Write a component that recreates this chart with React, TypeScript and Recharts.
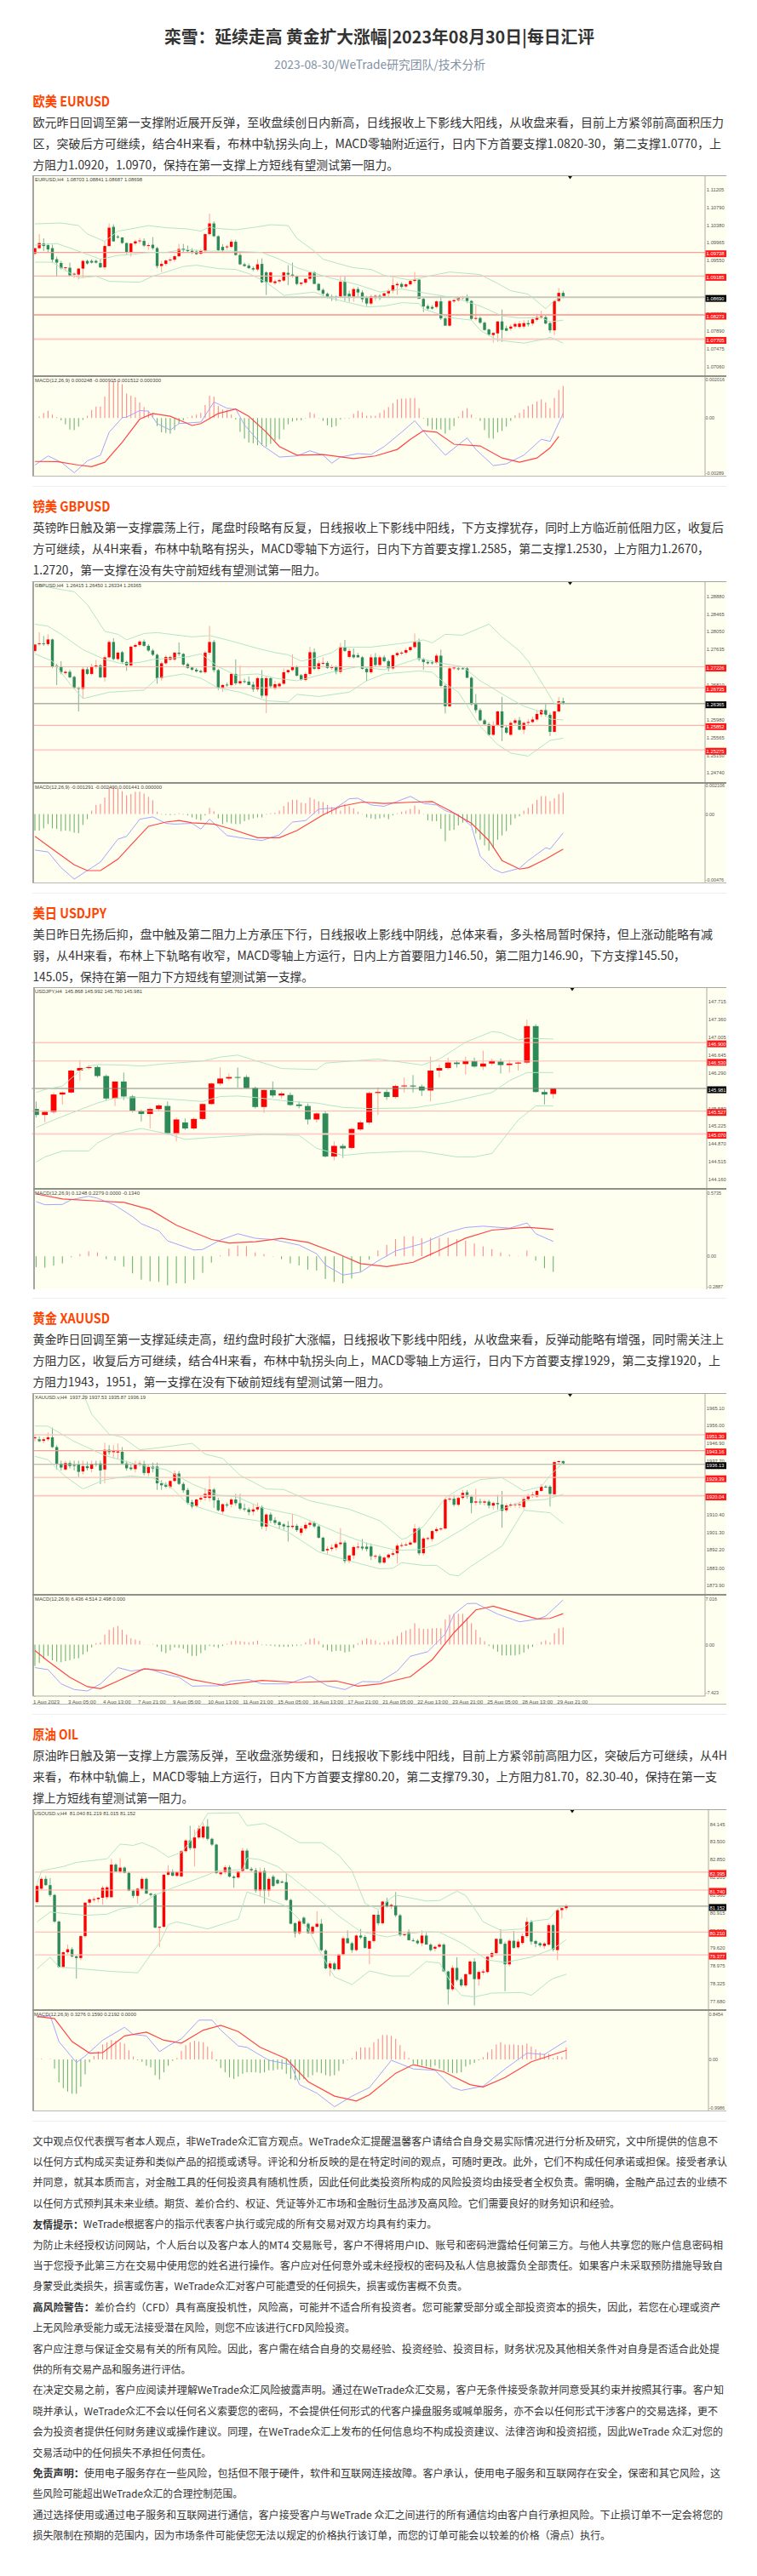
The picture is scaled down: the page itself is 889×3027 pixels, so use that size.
import React from "react";
import { ComposedChart, Bar, Line, XAxis, YAxis, ReferenceLine } from "recharts";

// ---------- EURUSD (prices in 1/10000) : open, high, low, close ----------
const eurCandles = [[10971,10984,10967,10984],[10984,11017,10981,10996],[10995,11007,10977,10989],[10991,10995,10974,10981],[10984,10992,10950,10957],[10958,10964,10917,10950],[10949,10954,10934,10937],[10937,10940,10930,10939],[10938,10950,10919,10920],[10922,10927,10914,10924],[10922,10937,10910,10936],[10936,10957,10914,10954],[10954,10957,10945,10948],[10954,10958,10948,10950],[10954,10957,10948,10950],[10949,10958,10937,10939],[10939,11000,10934,10989],[10989,11042,10987,11032],[11034,11040,10999,11000],[11011,11015,11006,11010],[11009,11010,10994,10996],[10996,10997,10970,10974],[10974,10997,10964,10995],[10995,11004,10990,11000],[11000,11008,10995,11002],[11001,11007,10987,10990],[10990,10996,10980,10991],[10992,11010,10980,10984],[10984,10987,10937,10942],[10942,10954,10928,10947],[10947,10958,10942,10955],[10955,10962,10950,10957],[10957,10968,10952,10965],[10965,10994,10963,10982],[10983,10994,10975,10979],[10981,10990,10975,10977],[10978,10984,10970,10974],[10976,10980,10968,10970],[10971,10982,10968,10978],[10977,11018,10974,11017],[11017,11065,11014,11042],[11042,11047,11010,11012],[11012,11014,10977,10979],[10987,10993,10975,10979],[10986,10992,10980,10988],[10987,11004,10984,10999],[10999,11004,10966,10968],[10968,10974,10944,10946],[10946,10950,10940,10942],[10943,10948,10935,10937],[10937,10941,10930,10934],[10934,10958,10930,10946],[10947,10960,10902,10904],[10927,10930,10874,10904],[10904,10930,10902,10927],[10902,10910,10898,10906],[10906,10912,10902,10909],[10908,10930,10905,10927],[10926,10944,10897,10922],[10922,10950,10915,10918],[10918,10920,10897,10900],[10900,10904,10895,10903],[10903,10912,10899,10912],[10912,10930,10908,10927],[10927,10930,10900,10900],[10900,10902,10883,10885],[10886,10890,10873,10877],[10877,10880,10866,10868],[10870,10875,10860,10867],[10870,10873,10860,10868],[10870,10917,10867,10905],[10905,10917,10860,10872],[10877,10884,10858,10870],[10870,10892,10858,10888],[10888,10893,10870,10880],[10880,10885,10857,10864],[10867,10872,10848,10854],[10854,10875,10850,10871],[10867,10875,10860,10872],[10872,10876,10862,10867],[10872,10880,10868,10878],[10878,10888,10870,10884],[10884,10914,10878,10897],[10897,10905,10874,10900],[10900,10904,10890,10893],[10894,10902,10890,10899],[10899,10910,10896,10907],[10907,10928,10902,10910],[10910,10911,10865,10865],[10865,10868,10834,10847],[10848,10852,10838,10842],[10846,10850,10840,10842],[10846,10862,10842,10859],[10859,10870,10815,10819],[10819,10822,10802,10802],[10802,10862,10800,10860],[10859,10865,10855,10862],[10862,10870,10858,10868],[10867,10872,10862,10869],[10869,10875,10855,10860],[10860,10862,10815,10818],[10818,10850,10814,10820],[10820,10824,10806,10809],[10809,10812,10790,10792],[10793,10795,10778,10781],[10780,10786,10762,10785],[10784,10812,10764,10812],[10812,10840,10764,10792],[10796,10802,10790,10790],[10795,10805,10790,10800],[10800,10810,10795,10806],[10799,10813,10795,10807],[10800,10815,10795,10808],[10808,10815,10800,10805],[10807,10822,10802,10817],[10816,10830,10812,10822],[10822,10837,10818,10824],[10822,10826,10805,10807],[10808,10812,10785,10791],[10791,10862,10780,10860],[10860,10890,10857,10879],[10879,10884,10866,10869]];
const eurUpper = [[0,11041],[3,11042],[6,11043],[10,11037],[12,11017],[16,11000],[19,11024],[23,11031],[26,11037],[30,11032],[35,11029],[38,11024],[40,11034],[41,11031],[46,11027],[51,11034],[54,11039],[58,11037],[60,11007],[64,10977],[66,10958],[69,10949],[73,10938],[77,10934],[80,10920],[86,10909],[91,10920],[95,10928],[102,10922],[106,10901],[109,10884],[113,10876],[117,10842],[119,10861],[121,10871]];
const eurMid = [[0,10991],[5,10995],[10,10977],[15,10958],[19,10967],[22,10969],[26,10974],[30,10974],[34,10981],[40,10977],[45,10977],[52,10974],[56,10958],[60,10938],[67,10916],[74,10898],[79,10881],[84,10888],[88,10881],[92,10874],[96,10868],[102,10848],[107,10825],[111,10820],[116,10821],[118,10811],[121,10815]];
const eurLower = [[0,10951],[4,10951],[6,10938],[10,10914],[14,10918],[17,10906],[24,10904],[27,10918],[34,10941],[37,10944],[42,10936],[46,10934],[49,10924],[53,10904],[57,10873],[64,10881],[67,10868],[76,10846],[80,10848],[84,10856],[88,10854],[89,10841],[95,10821],[100,10815],[102,10791],[106,10768],[112,10761],[117,10771],[118,10775],[121,10761]];
const eurHist = [0,8,26,38,18,5,-12,-33,-60,-63,-45,-10,12,42,60,60,112,188,195,195,177,128,117,108,82,57,38,27,-42,-75,-78,-82,-63,-30,-12,3,12,18,27,68,117,112,63,45,42,18,-8,-72,-108,-128,-132,-142,-142,-150,-135,-117,-112,-60,-33,-18,-12,-12,-2,30,22,-2,-15,-38,-48,-42,-8,-2,-3,22,38,30,12,12,12,27,42,57,78,98,102,102,105,105,52,-3,-42,-60,-60,-60,-82,-63,-42,8,38,52,18,-2,-15,-63,-105,-108,-75,-68,-45,-15,15,27,45,63,72,87,98,82,52,105,147,168];
const eurMacd = [[0,-246],[3,-198],[6,-231],[9,-286],[12,-224],[15,-194],[17,-74],[20,2],[21,5],[24,39],[26,36],[28,-29],[31,-63],[33,-29],[38,-21],[41,84],[44,51],[46,47],[48,-36],[52,-141],[56,-204],[60,-198],[63,-171],[66,-194],[68,-236],[70,-204],[74,-186],[77,-191],[80,-149],[84,-74],[87,-14],[90,-96],[94,-194],[99,-104],[101,-164],[105,-249],[108,-239],[112,-194],[116,-111],[118,-122],[121,24]];
const eurSignal = [[0,-227],[5,-228],[10,-246],[13,-254],[16,-231],[20,-126],[24,-6],[27,24],[31,9],[36,-39],[38,-29],[42,24],[46,47],[49,9],[53,-74],[56,-149],[60,-194],[66,-191],[73,-212],[78,-198],[83,-164],[86,-111],[89,-66],[92,-74],[96,-137],[102,-146],[107,-209],[111,-231],[115,-209],[118,-156],[120,-96]];
const eurTicks: [number,string][] = [[11120.5,"1.11205"],[11079,"1.10790"],[11038,"1.10380"],[10996.5,"1.09965"],[10955,"1.09550"],[10830.5,"1.08305"],[10789,"1.07890"],[10747.5,"1.07475"],[10706,"1.07060"]];
const eurLevels: [number,string][] = [[10973.8,"1.09738"],[10918.5,"1.09185"],[10869,"1.08690"],[10827.3,"1.08273"],[10770.5,"1.07705"]];

// ---------- GBPUSD (prices in 1/10000) ----------
const gbpCandles = [[12760,12775,12756,12775],[12776,12804,12772,12778],[12778,12795,12772,12776],[12776,12799,12772,12787],[12787,12789,12720,12723],[12725,12730,12680,12723],[12724,12736,12705,12710],[12708,12715,12704,12711],[12711,12716,12696,12698],[12699,12702,12670,12673],[12673,12676,12618,12671],[12671,12722,12649,12717],[12717,12722,12704,12706],[12706,12730,12703,12724],[12724,12739,12718,12726],[12726,12730,12696,12698],[12698,12749,12688,12745],[12745,12785,12743,12781],[12781,12790,12738,12741],[12741,12758,12737,12756],[12757,12760,12730,12734],[12734,12737,12713,12726],[12726,12772,12722,12770],[12770,12778,12766,12774],[12774,12786,12770,12782],[12782,12787,12770,12772],[12772,12776,12758,12761],[12761,12765,12748,12751],[12751,12754,12683,12696],[12696,12735,12690,12731],[12731,12750,12728,12746],[12740,12749,12736,12746],[12740,12758,12736,12756],[12756,12780,12748,12753],[12753,12755,12725,12728],[12729,12732,12718,12720],[12721,12723,12713,12716],[12716,12720,12709,12712],[12713,12716,12708,12710],[12710,12760,12706,12756],[12756,12819,12750,12781],[12781,12786,12710,12715],[12715,12718,12668,12673],[12673,12682,12664,12680],[12681,12686,12676,12679],[12680,12708,12677,12706],[12706,12740,12680,12684],[12684,12726,12680,12689],[12689,12695,12684,12688],[12688,12700,12680,12680],[12681,12688,12664,12670],[12670,12700,12665,12696],[12696,12715,12650,12655],[12655,12700,12614,12696],[12696,12700,12672,12677],[12672,12690,12668,12682],[12677,12686,12672,12683],[12683,12719,12680,12710],[12710,12716,12706,12715],[12715,12752,12712,12723],[12723,12726,12700,12702],[12703,12706,12690,12692],[12692,12710,12688,12706],[12706,12770,12702,12757],[12757,12766,12715,12718],[12718,12738,12714,12731],[12730,12745,12726,12732],[12732,12736,12718,12720],[12720,12728,12716,12722],[12722,12726,12705,12711],[12711,12779,12706,12769],[12769,12786,12758,12760],[12746,12766,12742,12760],[12751,12766,12742,12745],[12750,12755,12744,12745],[12745,12748,12716,12718],[12718,12722,12689,12710],[12710,12752,12706,12745],[12745,12755,12722,12727],[12727,12750,12724,12745],[12745,12750,12733,12736],[12736,12740,12712,12719],[12719,12752,12715,12750],[12750,12758,12746,12755],[12755,12760,12750,12756],[12756,12767,12752,12762],[12762,12770,12758,12769],[12769,12801,12765,12781],[12781,12789,12736,12741],[12741,12744,12716,12734],[12734,12738,12728,12731],[12733,12738,12728,12731],[12732,12754,12729,12749],[12749,12763,12675,12678],[12678,12682,12613,12630],[12630,12725,12628,12719],[12719,12725,12715,12721],[12719,12724,12714,12717],[12719,12723,12716,12717],[12719,12723,12696,12697],[12697,12700,12632,12635],[12635,12659,12615,12621],[12621,12625,12595,12597],[12597,12600,12585,12588],[12588,12592,12560,12563],[12563,12595,12560,12586],[12586,12620,12583,12618],[12618,12652,12548,12580],[12580,12584,12565,12568],[12563,12596,12560,12591],[12591,12602,12587,12597],[12597,12605,12574,12575],[12575,12595,12565,12591],[12591,12600,12586,12593],[12593,12606,12590,12599],[12599,12620,12595,12612],[12611,12622,12605,12621],[12621,12635,12606,12610],[12610,12615,12560,12570],[12570,12620,12568,12618],[12618,12652,12615,12642],[12642,12650,12634,12638]];
const gbpUpper = [[0,12916],[5,12906],[9,12899],[12,12869],[16,12806],[19,12799],[21,12786],[25,12801],[28,12803],[36,12793],[40,12796],[44,12786],[51,12766],[55,12756],[58,12751],[61,12736],[64,12743],[68,12756],[70,12769],[77,12769],[85,12779],[89,12786],[91,12779],[94,12799],[98,12797],[104,12823],[107,12793],[111,12760],[113,12736],[117,12670],[119,12636],[121,12640]];
const gbpMid = [[0,12823],[3,12818],[6,12799],[11,12763],[16,12740],[20,12730],[24,12733],[27,12740],[35,12746],[38,12753],[42,12723],[46,12703],[51,12706],[55,12696],[60,12690],[69,12713],[74,12723],[80,12716],[88,12743],[92,12733],[98,12723],[102,12690],[108,12653],[112,12630],[116,12617],[118,12600],[121,12598]];
const gbpLower = [[0,12753],[4,12736],[8,12683],[11,12648],[17,12663],[25,12668],[28,12696],[34,12706],[38,12696],[42,12673],[47,12663],[53,12643],[58,12640],[60,12658],[65,12653],[72,12663],[76,12690],[80,12706],[88,12713],[91,12710],[94,12683],[97,12663],[102,12583],[106,12540],[109,12520],[113,12513],[118,12550],[121,12555]];
const gbpHist = [-122,-122,-105,-74,-105,-109,-126,-122,-126,-137,-141,-80,-38,25,67,74,122,193,200,193,168,137,147,164,164,151,126,101,17,-4,-6,-8,-6,6,-4,-10,-25,-38,-46,-10,46,21,-32,-74,-59,-69,-74,-74,-52,-42,-32,-25,-25,-4,6,10,25,59,88,105,105,84,80,122,109,95,88,67,52,46,25,74,59,42,17,-2,-25,-32,-38,-32,-25,-38,-10,6,17,25,38,63,32,-2,-46,-52,-52,-109,-200,-122,-116,-84,-63,-59,-84,-143,-189,-231,-269,-252,-189,-158,-126,-80,-32,-17,25,46,74,105,132,132,95,116,147,158];
const gbpMacd = [[0,-265],[3,-279],[6,-395],[9,-479],[13,-395],[15,-353],[19,-185],[21,-164],[24,-38],[27,-21],[30,-69],[32,-74],[36,-69],[38,-111],[40,-38],[44,-158],[48,-179],[52,-195],[56,-153],[59,-59],[62,-48],[65,36],[69,46],[72,113],[74,116],[77,67],[80,57],[86,130],[89,78],[92,67],[94,25],[97,-6],[100,-90],[102,-311],[105,-405],[107,-433],[111,-399],[113,-342],[117,-248],[118,-258],[121,-139]];
const gbpSignal = [[0,-164],[4,-258],[9,-374],[12,-416],[15,-416],[19,-332],[22,-227],[26,-90],[30,-59],[33,-48],[36,-65],[41,-74],[45,-111],[51,-174],[56,-174],[60,-122],[66,-6],[70,57],[75,88],[80,78],[87,88],[91,92],[95,25],[100,-69],[104,-195],[107,-342],[111,-405],[113,-395],[117,-332],[121,-258]];
const gbpTicks: [number,string][] = [[12888,"1.28880"],[12846.5,"1.28465"],[12805,"1.28050"],[12763.5,"1.27635"],[12681,"1.26810"],[12598,"1.25980"],[12556.5,"1.25565"],[12515,"1.25150"],[12474,"1.24740"]];
const gbpLevels: [number,string][] = [[12722.6,"1.27226"],[12673.5,"1.26735"],[12636.5,"1.26365"],[12585.2,"1.25852"],[12527.5,"1.25275"]];

// ---------- USDJPY (prices in 1/100) ----------
const jpyCandles = [[14557,14572,14540,14545],[14545,14552,14530,14551],[14551,14590,14548,14586],[14586,14592,14566,14590],[14590,14636,14588,14634],[14634,14655,14614,14639],[14639,14645,14636,14641],[14641,14644,14620,14623],[14623,14626,14574,14578],[14578,14612,14563,14612],[14612,14630,14575,14582],[14582,14585,14550,14553],[14553,14556,14532,14547],[14547,14560,14518,14557],[14557,14567,14554,14564],[14563,14572,14505,14506],[14506,14540,14492,14536],[14530,14538,14515,14518],[14518,14540,14515,14537],[14537,14568,14534,14567],[14567,14610,14565,14608],[14608,14640,14604,14618],[14618,14628,14614,14621],[14621,14640,14600,14620],[14621,14625,14598,14599],[14599,14602,14558,14561],[14561,14596,14549,14595],[14595,14612,14580,14584],[14584,14592,14578,14588],[14585,14590,14563,14565],[14566,14572,14558,14563],[14563,14568,14526,14536],[14536,14550,14530,14548],[14548,14552,14460,14462],[14462,14492,14454,14483],[14483,14487,14459,14478],[14479,14520,14476,14517],[14516,14534,14513,14530],[14530,14592,14526,14589],[14589,14600,14545,14591],[14591,14596,14575,14581],[14581,14606,14578,14603],[14603,14620,14590,14604],[14604,14625,14590,14602],[14602,14606,14583,14594],[14594,14662,14572,14634],[14634,14646,14620,14639],[14639,14660,14636,14650],[14650,14654,14640,14647],[14647,14662,14626,14653],[14653,14660,14640,14642],[14642,14674,14635,14648],[14648,14658,14644,14653],[14652,14658,14628,14645],[14645,14655,14630,14648],[14648,14652,14634,14650],[14650,14736,14647,14723],[14723,14727,14590,14591],[14591,14596,14566,14586],[14587,14599,14578,14598]];
const jpyUpper = [[0,14590],[1,14596],[3,14603],[5,14634],[6,14643],[7,14646],[10,14645],[12,14643],[15,14648],[19,14653],[21,14661],[23,14665],[25,14654],[28,14638],[32,14636],[33,14649],[36,14653],[39,14657],[42,14650],[44,14645],[46,14657],[49,14691],[52,14712],[53,14710],[55,14695],[56,14699],[59,14697]];
const jpyMid = [[0,14520],[2,14535],[4,14549],[7,14569],[9,14579],[12,14580],[15,14577],[19,14572],[21,14582],[23,14583],[25,14580],[29,14572],[32,14569],[35,14560],[38,14558],[43,14559],[47,14570],[52,14590],[54,14614],[56,14630],[59,14630]];
const jpyLower = [[0,14451],[1,14461],[3,14473],[6,14473],[7,14489],[9,14507],[12,14518],[15,14507],[17,14496],[20,14500],[26,14506],[30,14504],[32,14478],[35,14464],[38,14469],[42,14472],[44,14472],[48,14461],[50,14461],[52,14468],[55,14535],[57,14563],[59,14563]];
const jpyHist = [-98,-103,-85,-65,-8,21,46,36,-26,-39,-95,-155,-212,-227,-232,-263,-245,-245,-212,-150,-57,8,70,98,90,36,21,-3,-26,-65,-83,-121,-129,-206,-232,-245,-201,-142,-31,52,103,155,181,181,163,168,168,168,155,142,116,90,65,36,15,3,52,-39,-108,-142];
const jpyMacd = [[0,495],[1,467],[3,470],[4,513],[6,544],[7,526],[9,462],[11,359],[12,294],[14,230],[15,139],[18,57],[19,62],[21,147],[23,204],[25,163],[27,152],[30,101],[32,23],[33,-80],[35,-170],[37,-144],[39,-41],[41,49],[44,114],[47,217],[49,261],[51,273],[54,255],[56,302],[57,204],[59,134]];
const jpySignal = [[0,565],[3,519],[7,501],[10,488],[13,423],[16,281],[20,152],[22,121],[25,132],[28,163],[31,126],[34,36],[37,-67],[40,-93],[43,-54],[46,54],[49,165],[52,237],[56,263],[59,243]];
const jpyTicks: [number,string][] = [[14771.5,"147.715"],[14736,"147.360"],[14700.5,"147.005"],[14664.5,"146.645"],[14629,"146.290"],[14593.5,"145.935"],[14558,"145.580"],[14522.5,"145.225"],[14487,"144.870"],[14451.5,"144.515"],[14416,"144.160"]];
const jpyLevels: [number,string][] = [[14690,"146.900"],[14653,"146.530"],[14598.1,"145.981"],[14552.7,"145.527"],[14507,"145.070"]];

// ---------- XAUUSD ----------
const xauCandles = [[1949.5,1951,1948,1950],[1949,1950.5,1947.5,1948],[1948.2,1950,1947,1949],[1949,1952.5,1948,1950],[1950,1955,1944.5,1945],[1945,1946,1933.5,1936.5],[1936.5,1938,1933,1934.5],[1933.5,1938,1933,1936.8],[1936.8,1938,1934,1935.3],[1935.8,1938,1933,1935.3],[1936,1938,1929.7,1932.3],[1932.5,1938,1931,1935.2],[1935.2,1937.5,1933,1934.2],[1933.8,1938,1932,1936.3],[1936.5,1938,1935,1936.2],[1936.6,1938,1926,1933],[1933.5,1947.2,1926.5,1943.6],[1943.6,1946,1941,1942.4],[1942.4,1946,1939,1943.2],[1942.2,1946.8,1939,1942.8],[1942.6,1945,1936,1936.6],[1936.6,1938,1933,1934.1],[1934.5,1936,1933,1933.7],[1933.7,1938,1932,1936.3],[1936.3,1938,1935,1936.6],[1936.3,1938,1930.5,1931.7],[1931.7,1936,1930,1934.9],[1935,1937,1932,1934],[1935,1937,1923,1926.4],[1926.4,1928,1923,1925.4],[1925.8,1927,1924,1924.7],[1924.5,1928,1923.5,1927.6],[1927.6,1933,1927,1931.4],[1931.4,1932.7,1925.5,1926.1],[1926.1,1927,1921.6,1922.8],[1923,1924,1915.5,1916.3],[1916.7,1918,1913.5,1914.5],[1914.8,1918.5,1914,1918.1],[1918.1,1920,1917,1918.9],[1919,1924,1917.5,1921],[1918.9,1930.2,1917,1923.2],[1923.2,1924,1913.8,1917.7],[1917.7,1919,1912,1912.6],[1911.9,1916,1910.5,1915.7],[1915.5,1916.5,1914,1915.2],[1915.6,1919,1914,1918.1],[1918.1,1921,1915,1916.2],[1916.2,1921,1912.5,1913.4],[1913.5,1916,1912,1913],[1913,1914,1910,1911.6],[1911.9,1916,1910,1913],[1913,1916.5,1912,1914.2],[1914.2,1915,1903,1904.3],[1904.2,1911,1902,1910.4],[1910.4,1911.5,1906,1907.3],[1907.5,1909,1905,1906.1],[1906.5,1907,1903,1905],[1905.3,1906,1902.5,1904.3],[1904.6,1907,1896.5,1904],[1904,1910.8,1903,1904.6],[1904.6,1905.5,1901.5,1902.4],[1901,1904.5,1899.5,1903.2],[1903.2,1906.5,1902,1905.1],[1905.1,1907.5,1904,1906.1],[1906.1,1907,1903.5,1904.3],[1904.3,1905,1898,1898.5],[1898.5,1899,1891.5,1891.5],[1892,1894,1889.8,1892.7],[1892.7,1895,1891.5,1893.4],[1893.4,1896.5,1892,1895.2],[1895.2,1903.5,1894,1896],[1896,1897,1885.4,1886.5],[1886.5,1889.5,1885.4,1889.4],[1889.4,1894.5,1887.5,1893.7],[1893.7,1896,1892.5,1893.9],[1893.9,1897.8,1892,1893],[1893.9,1896,1891.5,1892.7],[1894,1895.5,1887,1889],[1889,1890,1887.5,1889.2],[1889,1890,1885,1885.7],[1885.7,1889,1885,1888.3],[1888.3,1890.5,1887.5,1889.8],[1889.8,1892,1889,1890.5],[1890.5,1895.5,1885.4,1894.4],[1894.4,1896,1893.5,1894.7],[1894.7,1896,1894,1895],[1895,1897,1894.5,1896],[1896,1905.5,1895.5,1903.2],[1903.2,1904,1889.5,1890.5],[1890.5,1899,1889.5,1898.1],[1898.1,1899,1897,1898.3],[1897.8,1902.5,1896.5,1901.9],[1901.9,1904,1901,1902.9],[1902.9,1904,1902,1903.2],[1903.2,1919,1902.5,1918.2],[1918.2,1920,1917,1918.5],[1918.5,1920.5,1914.5,1915.4],[1915.4,1919.5,1914.5,1918.9],[1918.9,1923,1918,1921.5],[1921.8,1923,1918.5,1919.6],[1919.6,1920.5,1911,1916.3],[1916.5,1923.5,1915,1917.1],[1917,1918.5,1915.5,1916.9],[1916.5,1918,1915,1917.1],[1917,1918,1913.5,1915],[1915,1917,1913,1916.3],[1916.3,1920.5,1913,1915.7],[1915.5,1922.5,1903.6,1912.3],[1912.6,1916,1911.5,1915],[1915,1916.5,1914,1915.5],[1915.3,1916.5,1914,1915.7],[1915.3,1917,1913.5,1915.7],[1914.2,1919.5,1913,1918.3],[1918.3,1921,1917.5,1920.3],[1920,1922,1919,1920.6],[1919.6,1923,1919,1922.5],[1922.5,1926,1922,1924.7],[1924.7,1925.5,1924,1924.4],[1924.7,1925.5,1914.5,1921],[1920.8,1938,1920,1937.3],[1937.3,1938,1936,1937.8],[1937.8,1938,1936.2,1936.6]];
const xauUpper = [[11,1972.7],[13,1961.8],[17,1951.6],[20,1950.1],[24,1943.6],[27,1944.3],[36,1946.9],[39,1941.4],[43,1939.2],[47,1930.5],[53,1923.5],[57,1923.2],[63,1917.4],[72,1913.1],[79,1907.2],[84,1897.8],[85,1898.2],[89,1904.3],[94,1918.9],[97,1923.2],[102,1928.3],[107,1929.3],[112,1922.5],[116,1924.7],[118,1930.5],[121,1937]];
const xauMid = [[0,1955.8],[3,1955.7],[9,1947.9],[16,1940.7],[23,1936.3],[30,1933.4],[36,1926.1],[42,1920.3],[46,1919.6],[52,1913.8],[60,1910.1],[69,1901.4],[76,1895.6],[83,1892],[88,1892.4],[92,1894.9],[98,1902.9],[102,1908.7],[107,1913.1],[112,1917.4],[117,1918.1],[121,1920.8]];
const xauLower = [[0,1940.2],[3,1938.5],[7,1929.8],[11,1923.5],[16,1928.3],[22,1930.2],[27,1929.1],[31,1924.7],[35,1916],[41,1911.6],[45,1909.1],[51,1907.2],[58,1901.4],[65,1891.2],[72,1886.6],[79,1882.5],[82,1882.8],[84,1885.7],[89,1884.3],[92,1884.3],[95,1879.6],[97,1878.9],[100,1884],[107,1894.2],[112,1912.6],[118,1911.3],[121,1905.8]];
const xauHist = [-327,-283,-218,-174,-240,-262,-270,-253,-240,-218,-209,-153,-109,-44,22,35,153,227,262,283,227,153,96,78,61,4,4,9,-35,-109,-131,-87,-44,-52,-65,-131,-174,-174,-131,-87,-22,-35,-52,-22,13,52,61,52,44,35,44,61,-9,-13,-17,-26,-35,-35,-35,-26,-17,-13,35,87,96,52,-44,-87,-109,-96,-96,-122,-109,-52,22,65,96,78,65,26,35,52,78,131,187,218,240,327,249,240,240,249,253,249,384,458,471,471,471,414,327,227,109,52,-22,-65,-109,-166,-166,-166,-166,-153,-122,-65,-35,4,44,65,35,174,249,262];
const xauMacd = [[0,-353],[3,-384],[6,-602],[9,-689],[12,-711],[15,-602],[19,-353],[22,-405],[26,-371],[30,-458],[33,-501],[36,-637],[39,-632],[42,-632],[45,-558],[49,-536],[52,-602],[58,-602],[63,-484],[67,-632],[71,-689],[75,-567],[79,-571],[83,-405],[86,-179],[90,-109],[94,161],[96,467],[99,628],[101,632],[106,467],[111,349],[115,388],[117,436],[121,685]];
const xauSignal = [[0,-92],[3,-253],[8,-501],[12,-645],[15,-676],[19,-558],[25,-371],[30,-405],[36,-536],[43,-623],[52,-549],[60,-580],[69,-558],[74,-637],[79,-602],[86,-493],[91,-231],[96,183],[101,532],[105,589],[109,510],[115,392],[118,401],[121,475]];
const xauTicks: [number,string][] = [[1965.1,"1965.10"],[1956,"1956.00"],[1946.9,"1946.90"],[1937.7,"1937.70"],[1910.4,"1910.40"],[1901.3,"1901.30"],[1892.2,"1892.20"],[1883,"1883.00"],[1873.9,"1873.90"]];
const xauLevels: [number,string][] = [[1951.3,"1951.30"],[1943.16,"1943.16"],[1936.13,"1936.13"],[1929.39,"1929.39"],[1920.04,"1920.04"]];
const xauDates = ["1 Aug 2023","3 Aug 05:00","4 Aug 13:00","7 Aug 21:00","9 Aug 05:00","10 Aug 13:00","11 Aug 21:00","15 Aug 05:00","16 Aug 13:00","17 Aug 21:00","21 Aug 05:00","22 Aug 13:00","23 Aug 21:00","25 Aug 05:00","28 Aug 13:00","29 Aug 21:00"];

// ---------- USOUSD (prices in 1/100) ----------
const oilCandles = [[8130,8196,8125,8189],[8179,8222,8175,8215],[8215,8225,8190,8192],[8192,8218,8150,8156],[8156,8160,8054,8059],[8059,8063,7890,7893],[7893,7952,7888,7947],[7947,7975,7940,7958],[7958,7965,7928,7932],[7932,7935,7851,7926],[7926,8010,7918,8006],[8006,8130,8000,8128],[8128,8145,8118,8140],[8140,8150,8130,8141],[8141,8148,8130,8146],[8146,8190,8120,8182],[8148,8190,8140,8184],[8148,8288,8145,8267],[8267,8272,8240,8241],[8241,8290,8235,8256],[8256,8260,8235,8237],[8237,8240,8170,8172],[8172,8176,8145,8153],[8153,8182,8125,8179],[8179,8223,8172,8215],[8215,8220,8160,8161],[8161,8165,8150,8156],[8158,8162,8035,8037],[8037,8042,7965,8040],[8040,8232,8036,8230],[8230,8265,8225,8241],[8241,8250,8225,8226],[8226,8240,8222,8240],[8224,8320,8220,8316],[8316,8360,8310,8355],[8355,8409,8320,8327],[8327,8394,8260,8366],[8366,8410,8360,8399],[8366,8420,8360,8406],[8406,8433,8355,8361],[8361,8365,8335,8340],[8340,8343,8232,8236],[8232,8245,8225,8239],[8239,8265,8232,8257],[8257,8265,8220,8223],[8223,8228,8182,8218],[8220,8243,8215,8242],[8244,8328,8240,8318],[8318,8325,8250,8251],[8251,8258,8240,8246],[8246,8255,8165,8172],[8172,8256,8150,8241],[8244,8255,8125,8172],[8172,8222,8150,8215],[8223,8230,8185,8189],[8211,8215,8195,8198],[8205,8210,8200,8201],[8203,8234,8135,8138],[8138,8142,8050,8051],[8053,8056,8001,8017],[8017,8065,8010,8060],[8073,8078,8050,8051],[8051,8056,8015,8017],[8017,8045,8012,8040],[8040,8097,8035,8051],[8051,8068,7950,7955],[7953,7958,7885,7888],[7888,7915,7860,7906],[7906,7912,7880,7885],[7885,7940,7880,7939],[7939,8005,7935,7998],[7998,8027,7980,7980],[7980,7985,7945,7955],[7955,8012,7950,8008],[8008,8032,7995,8001],[8003,8010,7960,7963],[7960,7990,7903,7988],[7988,8085,7982,8084],[8084,8100,8045,8053],[8053,8135,8048,8132],[8132,8146,8110,8115],[8115,8125,8105,8120],[8117,8167,8075,8082],[8082,8087,8005,8009],[8009,8020,8005,8013],[8022,8030,7990,7991],[7991,7998,7985,7989],[7989,7995,7975,7980],[7980,8027,7970,8008],[8008,8018,7975,7975],[7975,7980,7950,7955],[7960,7972,7950,7967],[7967,7982,7962,7975],[7975,7980,7875,7877],[7877,7880,7756,7812],[7812,7900,7805,7890],[7890,7929,7840,7846],[7848,7855,7820,7826],[7826,7870,7820,7867],[7867,7918,7862,7913],[7913,7925,7753,7849],[7849,7880,7825,7875],[7873,7885,7865,7877],[7875,7932,7870,7931],[7931,7950,7925,7944],[7944,7998,7940,7996],[7996,8032,7975,7978],[7978,7985,7805,7903],[7903,7995,7895,7989],[7989,8025,7960,7963],[7965,7995,7960,7986],[7981,8015,7975,8006],[8006,8074,8000,8058],[8058,8065,7975,7986],[7988,7992,7965,7978],[7980,7984,7965,7972],[7970,7985,7960,7979],[7975,8052,7970,8046],[8046,8050,7950,7957],[7955,8105,7918,8101],[8101,8112,8070,8108],[8108,8123,8100,8115]];
const oilUpper = [[0,8198],[1,8244],[6,8260],[9,8275],[16,8288],[19,8342],[22,8337],[24,8347],[27,8327],[30,8294],[33,8311],[36,8373],[39,8454],[46,8456],[48,8409],[52,8417],[55,8394],[60,8347],[65,8347],[69,8301],[72,8244],[75,8125],[78,8103],[81,8146],[82,8156],[89,8134],[92,8136],[96,8170],[98,8154],[102,8058],[106,8027],[111,8032],[113,8060],[117,8068],[119,8105],[120,8115]];
const oilMid = [[0,8058],[3,8094],[6,8089],[11,8082],[16,8086],[19,8105],[23,8115],[27,8156],[31,8182],[39,8229],[41,8244],[47,8249],[48,8291],[51,8285],[55,8260],[60,8198],[64,8146],[69,8079],[74,8022],[80,8003],[83,8012],[89,8022],[92,8020],[97,7981],[103,7919],[107,7910],[113,7929],[118,7960],[121,7993]];
const oilLower = [[0,7886],[3,7929],[5,7893],[9,7888],[17,7877],[23,7872],[26,7939],[28,7981],[30,8048],[32,8058],[39,8032],[43,8053],[46,8068],[48,8167],[52,8146],[57,8115],[62,8032],[65,7939],[68,7857],[72,7829],[76,7879],[81,7860],[85,7860],[89,7913],[92,7908],[95,7826],[97,7790],[100,7784],[104,7798],[111,7800],[113,7790],[117,7841],[118,7851],[121,7867]];
const oilHist = [5,11,0,11,-170,-426,-532,-596,-638,-638,-505,-277,-53,64,149,277,319,362,346,319,293,170,53,-16,-43,-117,-149,-293,-372,-239,-117,-27,27,160,266,319,346,330,319,239,149,-27,-160,-239,-330,-362,-319,-266,-239,-239,-239,-255,-239,-202,-202,-186,-186,-266,-362,-383,-383,-362,-330,-293,-239,-255,-293,-309,-293,-213,-80,-11,27,149,223,223,223,319,383,452,452,436,383,266,149,27,-80,-106,-117,-133,-149,-117,-170,-213,-239,-255,-255,-239,-133,-96,-64,-16,43,133,186,277,319,277,277,277,266,266,293,239,186,133,106,106,27,64,43,223];
const oilMacd = [[0,782],[3,809],[5,330],[9,-59],[11,64],[15,356],[20,596],[22,463],[25,436],[28,144],[30,250],[33,383],[37,729],[40,729],[42,543],[46,250],[48,223],[53,-16],[58,-96],[60,-468],[64,-628],[68,-878],[72,-681],[76,-521],[81,-16],[86,-176],[91,-202],[95,-521],[97,-575],[102,-495],[107,-176],[112,117],[116,90],[117,144],[121,346]];
const oilSignal = [[0,798],[4,755],[8,330],[12,117],[15,128],[20,436],[25,505],[29,356],[33,303],[38,543],[42,633],[46,516],[51,223],[57,11],[62,-415],[68,-681],[73,-771],[76,-654],[82,-255],[86,-96],[93,-229],[99,-468],[102,-511],[107,-335],[113,-43],[121,170]];
const oilTicks: [number,string][] = [[8414.5,"84.145"],[8350,"83.500"],[8285,"82.850"],[8220.5,"82.205"],[8156,"81.560"],[8091.5,"80.915"],[8026.5,"80.265"],[7962,"79.620"],[7897.5,"78.975"],[7832.5,"78.325"],[7768,"77.680"]];
const oilLevels: [number,string][] = [[8239.5,"82.395"],[8174,"81.740"],[8115.2,"81.152"],[8021,"80.210"],[7937.7,"79.377"]];

// ---------- texts ----------
const titleText = "栾雪：延续走高 黄金扩大涨幅|2023年08月30日|每日汇评";
const subtitleText = "2023-08-30/WeTrade研究团队/技术分析";
const eurHead = "欧美 EURUSD";
const gbpHead = "镑美 GBPUSD";
const jpyHead = "美日 USDJPY";
const xauHead = "黄金 XAUUSD";
const oilHead = "原油 OIL";
const eurText: [string, number][] = [["欧元昨日回调至第一支撑附近展开反弹，至收盘续创日内新高，日线报收上下影线大阳线，从收盘来看，目前上方紧邻前高面积压力",850],["区，突破后方可继续，结合4H来看，布林中轨拐头向上，MACD零轴附近运行，日内下方首要支撑1.0820-30，第二支撑1.0770，上",847],["方阻力1.0920，1.0970，保持在第一支撑上方短线有望测试第一阻力。",468]];
const gbpText: [string, number][] = [["英镑昨日触及第一支撑震荡上行，尾盘时段略有反复，日线报收上下影线中阳线，下方支撑犹存，同时上方临近前低阻力区，收复后",850],["方可继续，从4H来看，布林中轨略有拐头，MACD零轴下方运行，日内下方首要支撑1.2585，第二支撑1.2530，上方阻力1.2670，",833],["1.2720，第一支撑在没有失守前短线有望测试第一阻力。",383]];
const jpyText: [string, number][] = [["美日昨日先扬后抑，盘中触及第二阻力上方承压下行，日线报收上影线中阴线，总体来看，多头格局暂时保持，但上涨动能略有减",837],["弱，从4H来看，布林上下轨略有收窄，MACD零轴上方运行，日内上方首要阻力146.50，第二阻力146.90，下方支撑145.50，",805],["145.05，保持在第一阻力下方短线有望测试第一支撑。",368]];
const xauText: [string, number][] = [["黄金昨日回调至第一支撑延续走高，纽约盘时段扩大涨幅，日线报收下影线中阳线，从收盘来看，反弹动能略有增强，同时需关注上",850],["方阻力区，收复后方可继续，结合4H来看，布林中轨拐头向上，MACD零轴上方运行，日内下方首要支撑1929，第二支撑1920，上",846],["方阻力1943，1951，第一支撑在没有下破前短线有望测试第一阻力。",458]];
const oilText: [string, number][] = [["原油昨日触及第一支撑上方震荡反弹，至收盘涨势缓和，日线报收下影线中阳线，目前上方紧邻前高阻力区，突破后方可继续，从4H",854],["来看，布林中轨偏上，MACD零轴上方运行，日内下方首要支撑80.20，第二支撑79.30，上方阻力81.70，82.30-40，保持在第一支",842],["撑上方短线有望测试第一阻力。",227]];
const disclaimer: [string, string, number][] = [
["","文中观点仅代表撰写者本人观点，非WeTrade众汇官方观点。WeTrade众汇提醒温馨客户请结合自身交易实际情况进行分析及研究，文中所提供的信息不",843],
["","以任何方式构成买卖证券和类似产品的招揽或诱导。评论和分析反映的是在特定时间的观点，可随时更改。此外，它们不构成任何承诺或担保。接受者承认",854],
["","并同意，就其本质而言，对金融工具的任何投资具有随机性质，因此任何此类投资所构成的风险投资均由接受者全权负责。需明确，金融产品过去的业绩不",854],
["","以任何方式预判其未来业绩。期货、差价合约、权证、凭证等外汇市场和金融衍生品涉及高风险。它们需要良好的财务知识和经验。",728],
["友情提示：","WeTrade根据客户的指示代表客户执行或完成的所有交易对双方均具有约束力。",513],
["","为防止未经授权访问网站，个人后台以及客户本人的MT4 交易账号，客户不得将用户ID、账号和密码泄露给任何第三方。与他人共享您的账户信息密码相",849],
["","当于您授予此第三方在交易中使用您的姓名进行操作。客户应对任何意外或未经授权的密码及私人信息披露负全部责任。如果客户未采取预防措施导致自",849],
["","身蒙受此类损失，损害或伤害，WeTrade众汇对客户可能遭受的任何损失，损害或伤害概不负责。",549],
["高风险警告：","差价合约（CFD）具有高度投机性，风险高，可能并不适合所有投资者。您可能蒙受部分或全部投资资本的损失，因此，若您在心理或资产",846],
["","上无风险承受能力或无法接受潜在风险，则您不应该进行CFD风险投资。",417],
["","客户应注意与保证金交易有关的所有风险。因此，客户需在结合自身的交易经验、投资经验、投资目标，财务状况及其他相关条件对自身是否适合此处提",845],
["","供的所有交易产品和服务进行评估。",224],
["","在决定交易之前，客户应阅读并理解WeTrade众汇风险披露声明。通过在WeTrade众汇交易，客户无条件接受条款并同意受其约束并按照其行事。客户知",850],
["","晓并承认，WeTrade众汇不会以任何名义索要您的密码，不会提供任何形式的代客户操盘服务或喊单服务，亦不会以任何形式干涉客户的交易选择，更不",843],
["","会为投资者提供任何财务建议或操作建议。同理，在WeTrade众汇上发布的任何信息均不构成投资建议、法律咨询和投资招揽，因此WeTrade 众汇对您的",849],
["","交易活动中的任何损失不承担任何责任。",248],
["免责声明：","使用电子服务存在一些风险，包括但不限于硬件，软件和互联网连接故障。客户承认，使用电子服务和互联网存在安全，保密和其它风险，这",846],
["","些风险可能超出WeTrade众汇的合理控制范围。",285],
["","通过选择使用或通过电子服务和互联网进行通信，客户接受客户与WeTrade 众汇之间进行的所有通信均由客户自行承担风险。下止损订单不一定会将您的",849],
["","损失限制在预期的范围内，因为市场条件可能使您无法以规定的价格执行该订单，而您的订单可能会以较差的价格（滑点）执行。",717],
];

// ---------- helpers ----------
const BG = "#fffff0";
const CJK = "'Noto Sans CJK SC', sans-serif";
const AXIS = "'Liberation Sans', sans-serif";

function buildMain(candles: number[][], up: number[][], mid: number[][], lo: number[][], slots: number) {
  const rows: any[] = [];
  for (let i = 0; i < slots; i++) {
    const c = candles[i];
    rows.push(c ? { i, o: c[0], h: c[1], l: c[2], c: c[3], range: [c[2], c[1]] } : { i });
  }
  up.forEach(([i, v]) => (rows[i].up = v));
  mid.forEach(([i, v]) => (rows[i].mid = v));
  lo.forEach(([i, v]) => (rows[i].lo = v));
  return rows;
}
function buildMacd(hist: number[], macd: number[][], signal: number[][], slots: number) {
  const rows: any[] = [];
  for (let i = 0; i < slots; i++) rows.push(i < hist.length ? { i, hist: hist[i] } : { i });
  macd.forEach(([i, v]) => (rows[i].macd = v));
  signal.forEach(([i, v]) => (rows[i].signal = v));
  return rows;
}
const Candle = (p: any) => {
  const d = p.payload;
  if (!d || d.o == null || !isFinite(p.y)) return <g />;
  const k = p.height / Math.max(d.h - d.l, 1e-6);
  const yOf = (v: number) => p.y + (d.h - v) * k;
  const upBar = d.c >= d.o;
  const col = upBar ? "#ff0000" : "#2e8b57";
  const cx = p.x + p.width / 2;
  const bw = Math.max(p.width * 0.68, 1);
  const t = Math.min(yOf(d.o), yOf(d.c));
  const b = Math.max(yOf(d.o), yOf(d.c));
  return (
    <g>
      <line x1={cx} x2={cx} y1={p.y} y2={p.y + p.height} stroke={upBar ? "#ff9c8c" : "#6fa98a"} strokeWidth={0.9} />
      <rect x={cx - bw / 2} y={t} width={bw} height={Math.max(b - t, 1)} fill={col} />
    </g>
  );
};
const HistBar = (p: any) => {
  const d = p.payload;
  if (!d || d.hist == null || !isFinite(p.y) || !isFinite(p.height)) return <g />;
  const t = Math.min(p.y, p.y + p.height);
  const cx = p.x + p.width / 2;
  return <rect x={cx - 0.55} y={t} width={1.1} height={Math.abs(p.height)} fill={d.hist >= 0 ? "#ff8a8a" : "#6fb56f"} />;
};

type Cfg = {
  top: number; div: number; bot: number; plotLeft: number; plotRight: number; slots: number; panelLeft: number;
  domain: [number, number]; ticks: [number, string][]; levels: [number, string][];
  levelStroke: string[]; levelWidth: number[]; rows: any[];
  macdDomain: [number, number]; macdTicks: [number, string][]; macdRows: any[];
  dates?: string[]; noBottom?: boolean; head: string; macdHead: string; headEnd: number; macdEnd: number; arrow: number; axisH?: number;
};

const END = 853;

function MainPanel({ c }: { c: Cfg }) {
  const left = Math.floor(c.plotLeft);
  const all = [...c.ticks.map((t) => t[0]), ...c.levels.map((t) => t[0])];
  const labelOf = new Map<number, string>(c.ticks);
  const levelIdx = new Map<number, number>(c.levels.map((l, i) => [l[0], i]));
  c.levels.forEach((l) => labelOf.set(l[0], l[1]));
  const x0 = c.plotRight - left;
  const tick = (p: any) => {
    const v = p.payload.value;
    const idx = levelIdx.get(v);
    if (idx == null)
      return <text x={x0 + 1.8} y={p.y + 2.1} fontSize={5.8} fontFamily={AXIS} fill="#555">{labelOf.get(v)}</text>;
    return (
      <g>
        <rect x={x0 + 0.5} y={p.y - 2.5} width={END - c.plotRight - 0.5} height={8} fill={idx === 2 ? "#000" : "#ff1a1a"} />
        <text x={x0 + 1.6} y={p.y + 3.7} fontSize={5.8} fontFamily={AXIS} fill="#fff">{labelOf.get(v)}</text>
      </g>
    );
  };
  return (
    <div style={{ position: "absolute", left, top: c.top, width: END - left, height: c.div - c.top }}>
      <ComposedChart width={END - left} height={c.div - c.top} data={c.rows} margin={{ top: 0, right: 0, bottom: 0, left: c.plotLeft - left }} barCategoryGap={0} barGap={0}>
        <XAxis dataKey="i" type="category" hide />
        <YAxis orientation="right" type="number" width={END - c.plotRight} domain={c.domain} allowDataOverflow ticks={all} interval={0} tick={tick} tickLine={false} axisLine={{ stroke: "#a9a9a0" }} />
        {c.levels.map((l, i) => (
          <ReferenceLine key={l[1]} y={l[0]} stroke={c.levelStroke[i]} strokeWidth={c.levelWidth[i]} />
        ))}
        <Line dataKey="up" stroke="#b4e4c6" strokeWidth={1} dot={false} activeDot={false} connectNulls isAnimationActive={false} />
        <Line dataKey="mid" stroke="#b4e4c6" strokeWidth={1} dot={false} activeDot={false} connectNulls isAnimationActive={false} />
        <Line dataKey="lo" stroke="#b4e4c6" strokeWidth={1} dot={false} activeDot={false} connectNulls isAnimationActive={false} />
        <Bar dataKey={(r: any) => r.range} shape={Candle} isAnimationActive={false} />
      </ComposedChart>
    </div>
  );
}

function MacdPanel({ c }: { c: Cfg }) {
  const left = Math.floor(c.plotLeft);
  const labelOf = new Map<number, string>(c.macdTicks);
  const axisH = c.axisH ?? 0;
  const h = c.bot - c.div + axisH;
  const x0 = c.plotRight - left;
  const tick = (p: any) => (
    <text x={x0 + 0.6} y={p.y + 2.1} fontSize={5.4} fontFamily={AXIS} fill="#555">{labelOf.get(p.payload.value)}</text>
  );
  const xtick = (p: any) => (
    <text x={p.x - 2} y={p.y + 6} fontSize={6.1} fontFamily={AXIS} fill="#555">{c.dates ? c.dates[Math.round(p.payload.value / 8)] : ""}</text>
  );
  const slotTicks: number[] = [];
  if (c.dates) for (let i = 0; i < c.slots; i += 8) if (i <= 120) slotTicks.push(i);
  return (
    <div style={{ position: "absolute", left, top: c.div, width: END - left, height: h }}>
      <ComposedChart width={END - left} height={h} data={c.macdRows} margin={{ top: 0, right: 0, bottom: 0, left: c.plotLeft - left }} barCategoryGap={0} barGap={0}>
        {c.dates ? (
          <XAxis dataKey="i" type="category" height={axisH} ticks={slotTicks} interval={0} tick={xtick} tickLine={{ stroke: "#999" }} tickSize={1} axisLine={{ stroke: "#aaa" }} />
        ) : (
          <XAxis dataKey="i" type="category" hide />
        )}
        <YAxis orientation="right" type="number" width={END - c.plotRight} domain={c.macdDomain} allowDataOverflow ticks={c.macdTicks.map((t) => t[0])} interval={0} tick={tick} tickLine={false} axisLine={{ stroke: "#a9a9a0" }} />
        <Bar dataKey="hist" shape={HistBar} isAnimationActive={false} />
        <Line dataKey="macd" stroke="#a4a4ff" strokeWidth={1} dot={false} activeDot={false} connectNulls isAnimationActive={false} />
        <Line dataKey="signal" stroke="#ff4646" strokeWidth={1.2} dot={false} activeDot={false} connectNulls isAnimationActive={false} />
      </ComposedChart>
    </div>
  );
}

function Box({ x, y, w, h, bg }: { x: number; y: number; w: number; h: number; bg: string }) {
  return <div style={{ position: "absolute", left: x, top: y, width: w, height: h, background: bg }} />;
}

function Panel({ c }: { c: Cfg }) {
  const L = c.panelLeft;
  return (
    <>
      <Box x={L} y={c.top} w={END - L} h={c.bot - c.top + (c.axisH ?? 0)} bg={BG} />
      <MainPanel c={c} />
      <MacdPanel c={c} />
      <Box x={L} y={c.top} w={1.5} h={c.bot - c.top} bg="#a6a6a0" />
      <Box x={L} y={c.top} w={END - L} h={1.2} bg="#a6a6a0" />
      <Box x={L} y={c.div - 0.6} w={END - L} h={1.4} bg="#909088" />
      {c.noBottom ? null : <Box x={L} y={c.bot + (c.axisH ?? 0) - 0.6} w={END - L} h={1} bg="#b8b8b0" />}
    </>
  );
}

const mk = (base: any, candles: number[][], up: number[][], mid: number[][], lo: number[][], hist: number[], macd: number[][], signal: number[][]): Cfg => ({
  ...base,
  rows: buildMain(candles, up, mid, lo, base.slots),
  macdRows: buildMacd(hist, macd, signal, base.slots),
});

const charts: Cfg[] = [
  mk({ top: 206, div: 442, bot: 560, plotLeft: 38.5, plotRight: 828, slots: 154, panelLeft: 38, domain: [10683.5, 11155], ticks: eurTicks, levels: eurLevels, levelStroke: ["#ff9c94", "#ffb3ad", "#c9c9bc", "#ff8f88", "#ffc8c2"], levelWidth: [1.3, 1.3, 2, 1.3, 2], macdDomain: [-306, 219], macdTicks: [[202, "0.002016"], [0, "0.00"], [-289, "-0.00289"]], head: "EURUSD,H4  1.08703 1.08841 1.08687 1.08698", macdHead: "MACD(12,26,9) 0.000248 -0.000915 0.001512 0.000300", headEnd: 167, macdEnd: 189, arrow: 669.5 }, eurCandles, eurUpper, eurMid, eurLower, eurHist, eurMacd, eurSignal),
  mk({ top: 683, div: 920, bot: 1038, plotLeft: 38.5, plotRight: 828, slots: 154, panelLeft: 38, domain: [12450, 12923.7], ticks: gbpTicks, levels: gbpLevels, levelStroke: ["#ffb3ad", "#ffb3ad", "#b0b0a5", "#ffb0aa", "#ffd0cb"], levelWidth: [1, 1, 1.6, 1.3, 2], macdDomain: [-510, 229], macdTicks: [[210, "0.002106"], [0, "0.00"], [-486, "-0.00476"]], head: "GBPUSD,H4  1.26415 1.26450 1.26334 1.26365", macdHead: "MACD(12,26,9) -0.001291 -0.002400 0.001441 0.000000", headEnd: 166, macdEnd: 190, arrow: 669.5 }, gbpCandles, gbpUpper, gbpMid, gbpLower, gbpHist, gbpMacd, gbpSignal),
  mk({ top: 1160, div: 1397, bot: 1515, plotLeft: 37.4, plotRight: 830, slots: 77, panelLeft: 39, noBottom: true, domain: [14397, 14801], ticks: jpyTicks, levels: jpyLevels, levelStroke: ["#ffa8a0", "#ffb8b0", "#8a8a80", "#ffb0a8", "#ffcfca"], levelWidth: [1, 1, 1, 1, 2], macdDomain: [-299, 611], macdTicks: [[573, "0.5735"], [0, "0.00"], [-275, "-0.2887"]], head: "USDJPY,H4  145.868 145.992 145.760 145.981", macdHead: "MACD(12,26,9) 0.1248 0.2279 0.0000 -0.1340", headEnd: 167, macdEnd: 164, arrow: 672 }, jpyCandles, jpyUpper, jpyMid, jpyLower, jpyHist, jpyMacd, jpySignal),
  mk({ top: 1637, div: 1874, bot: 1993, plotLeft: 38.5, plotRight: 828, slots: 154, panelLeft: 38, domain: [1869.2, 1972.7], ticks: xauTicks, levels: xauLevels, levelStroke: ["#ffc4be", "#ff9c94", "#a8a89e", "#ffbcb6", "#ffc4be"], levelWidth: [1.3, 1.3, 1.2, 1.3, 1.6], macdDomain: [-789, 763], macdTicks: [[702, "7.016"], [0, "0.00"], [-737, "-7.423"]], head: "XAUUSD.v,H4  1937.29 1937.53 1935.87 1936.19", macdHead: "MACD(12,26,9) 6.436 4.514 2.498 0.000", headEnd: 171, macdEnd: 147, arrow: 669.5, dates: xauDates, axisH: 10 }, xauCandles, xauUpper, xauMid, xauLower, xauHist, xauMacd, xauSignal),
  mk({ top: 2126, div: 2362, bot: 2481, plotLeft: 41, plotRight: 832, slots: 154, panelLeft: 38, domain: [7736, 8469], ticks: oilTicks, levels: oilLevels, levelStroke: ["#ffa8a0", "#ffb0a8", "#888880", "#ffb0a8", "#ffc0ba"], levelWidth: [1, 1, 1, 1, 1.2], macdDomain: [-963, 915], macdTicks: [[845, "0.8454"], [0, "0.00"], [-904, "-0.9986"]], head: "USOUSD.v,H4  81.040 81.219 81.015 81.152", macdHead: "MACD(12,26,9) 0.3276 0.1590 0.2192 0.0000", headEnd: 159, macdEnd: 160, arrow: 672 }, oilCandles, oilUpper, oilMid, oilLower, oilHist, oilMacd, oilSignal),
];

const T0 = 38.5;
function Fit({ x, y, end, size, fill, weight, family, children }: any) {
  return (
    <text x={x} y={y} textLength={end - x} lengthAdjust="spacingAndGlyphs" fontSize={size} fill={fill} fontWeight={weight} fontFamily={family ?? CJK} dominantBaseline="central" xmlSpace="preserve">
      {children}
    </text>
  );
}

const heads: [string, number, number][] = [[eurHead, 118, 129], [gbpHead, 594, 129.5], [jpyHead, 1072, 125], [xauHead, 1548, 129], [oilHead, 2037, 92]];
const paras: [[string, number][], number][] = [[eurText, 143], [gbpText, 619], [jpyText, 1097], [xauText, 1573], [oilText, 2062]];
const seps = [571, 1049, 1525, 2014, 2492];

export default function App() {
  return (
    <div style={{ position: "absolute", left: 0, top: 0, width: 889, height: 3027, background: "#fff", overflow: "hidden" }}>
      {seps.map((y) => <Box key={y} x={38} y={y} w={815} h={1} bg="#eeeeee" />)}
      {charts.map((c) => <Panel key={c.head} c={c} />)}
      <svg width={889} height={3027} style={{ position: "absolute", left: 0, top: 0, pointerEvents: "none" }}>
        <Fit x={193} y={42} end={698} size={20} fill="#333" weight={700}>{titleText}</Fit>
        <Fit x={322} y={75} end={570} size={14} fill="#8391a5">{subtitleText}</Fit>
        {heads.map(([t, y, e]) => <Fit key={t} x={T0} y={y} end={e} size={16} fill="#ff4500" weight={700}>{t}</Fit>)}
        {paras.map(([lines, y0]) => lines.map(([t, e], i) => <Fit key={t} x={T0} y={y0 + i * 25} end={e} size={14} fill="#333">{t}</Fit>))}
        {disclaimer.map(([b, t, e], i) => (
          <Fit key={t} x={T0} y={2515 + i * 24.4} end={e} size={12} fill="#333">
            {b ? <tspan fontWeight={700}>{b}</tspan> : null}{t}
          </Fit>
        ))}
        {charts.map((c) => (
          <g key={c.head}>
            <Fit x={c.plotLeft < 40 ? 41 : 40} y={c.top + 5} end={c.headEnd} size={6} fill="#444" family={AXIS}>{c.head}</Fit>
            <Fit x={c.plotLeft < 40 ? 41 : 40} y={c.div + 5} end={c.macdEnd} size={6} fill="#444" family={AXIS}>{c.macdHead}</Fit>
            <polygon points={`${c.arrow - 2.5},${c.top + 1} ${c.arrow + 2.5},${c.top + 1} ${c.arrow},${c.top + 4.5}`} fill="#111" />
          </g>
        ))}
      </svg>
    </div>
  );
}
